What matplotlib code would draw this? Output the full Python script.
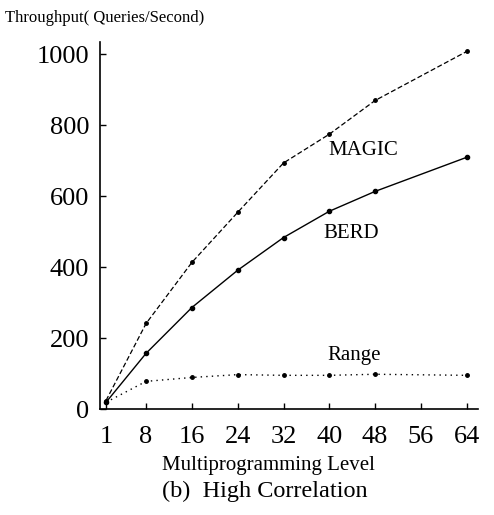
import matplotlib
matplotlib.use('Agg')
import matplotlib.pyplot as plt

# data
levels = [1, 8, 16, 24, 32, 40, 48, 64]
magic = [25, 242, 414, 555, 694, 775, 870, 1008]
berd = [20, 158, 287, 392, 484, 558, 614, 710]
range_ = [20, 79, 90, 98, 96, 96, 99, 96]
xticks = [1, 8, 16, 24, 32, 40, 48, 56, 64]
yticks = [0, 200, 400, 600, 800, 1000]

plt.rcParams['font.family'] = ['Liberation Serif', 'DejaVu Serif']

fig = plt.figure(figsize=(4.94, 5.15), dpi=100)
ax = fig.add_axes([0.203, 0.205, 0.765, 0.713])

ax.plot(levels, magic, color='black', lw=0.9, ls=(0, (4, 2)), marker='o', ms=2.5)
ax.plot(levels, berd, color='black', lw=1.0, ls='-', marker='o', ms=3)
ax.plot(levels, range_, color='black', lw=1.0, ls=(0, (1, 3)), marker='o', ms=2.5)

ax.text(46, 730, 'MAGIC', fontsize=15, ha='center', va='center')
ax.text(43.9, 496, 'BERD', fontsize=15, ha='center', va='center')
ax.text(44.4, 152, 'Range', fontsize=15, ha='center', va='center')

ax.set_xlim(0, 66)
ax.set_ylim(0, 1034)
ax.set_xticks(xticks)
ax.set_yticks(yticks)
ax.tick_params(direction='in', length=4, width=1, labelsize=19)
ax.tick_params(axis='x', pad=12)
ax.tick_params(axis='y', pad=8)
for s in ['top', 'right']:
    ax.spines[s].set_visible(False)
for s in ['left', 'bottom']:
    ax.spines[s].set_linewidth(1.2)

fig.text(0.543, 0.097, 'Multiprogramming Level', fontsize=15, ha='center', va='center')
fig.text(0.01, 0.965, 'Throughput( Queries/Second)', fontsize=12, ha='left', va='center')
fig.text(0.536, 0.045, '(b)  High Correlation', fontsize=17.5, ha='center', va='center')

fig.savefig('out.png', dpi=100)
